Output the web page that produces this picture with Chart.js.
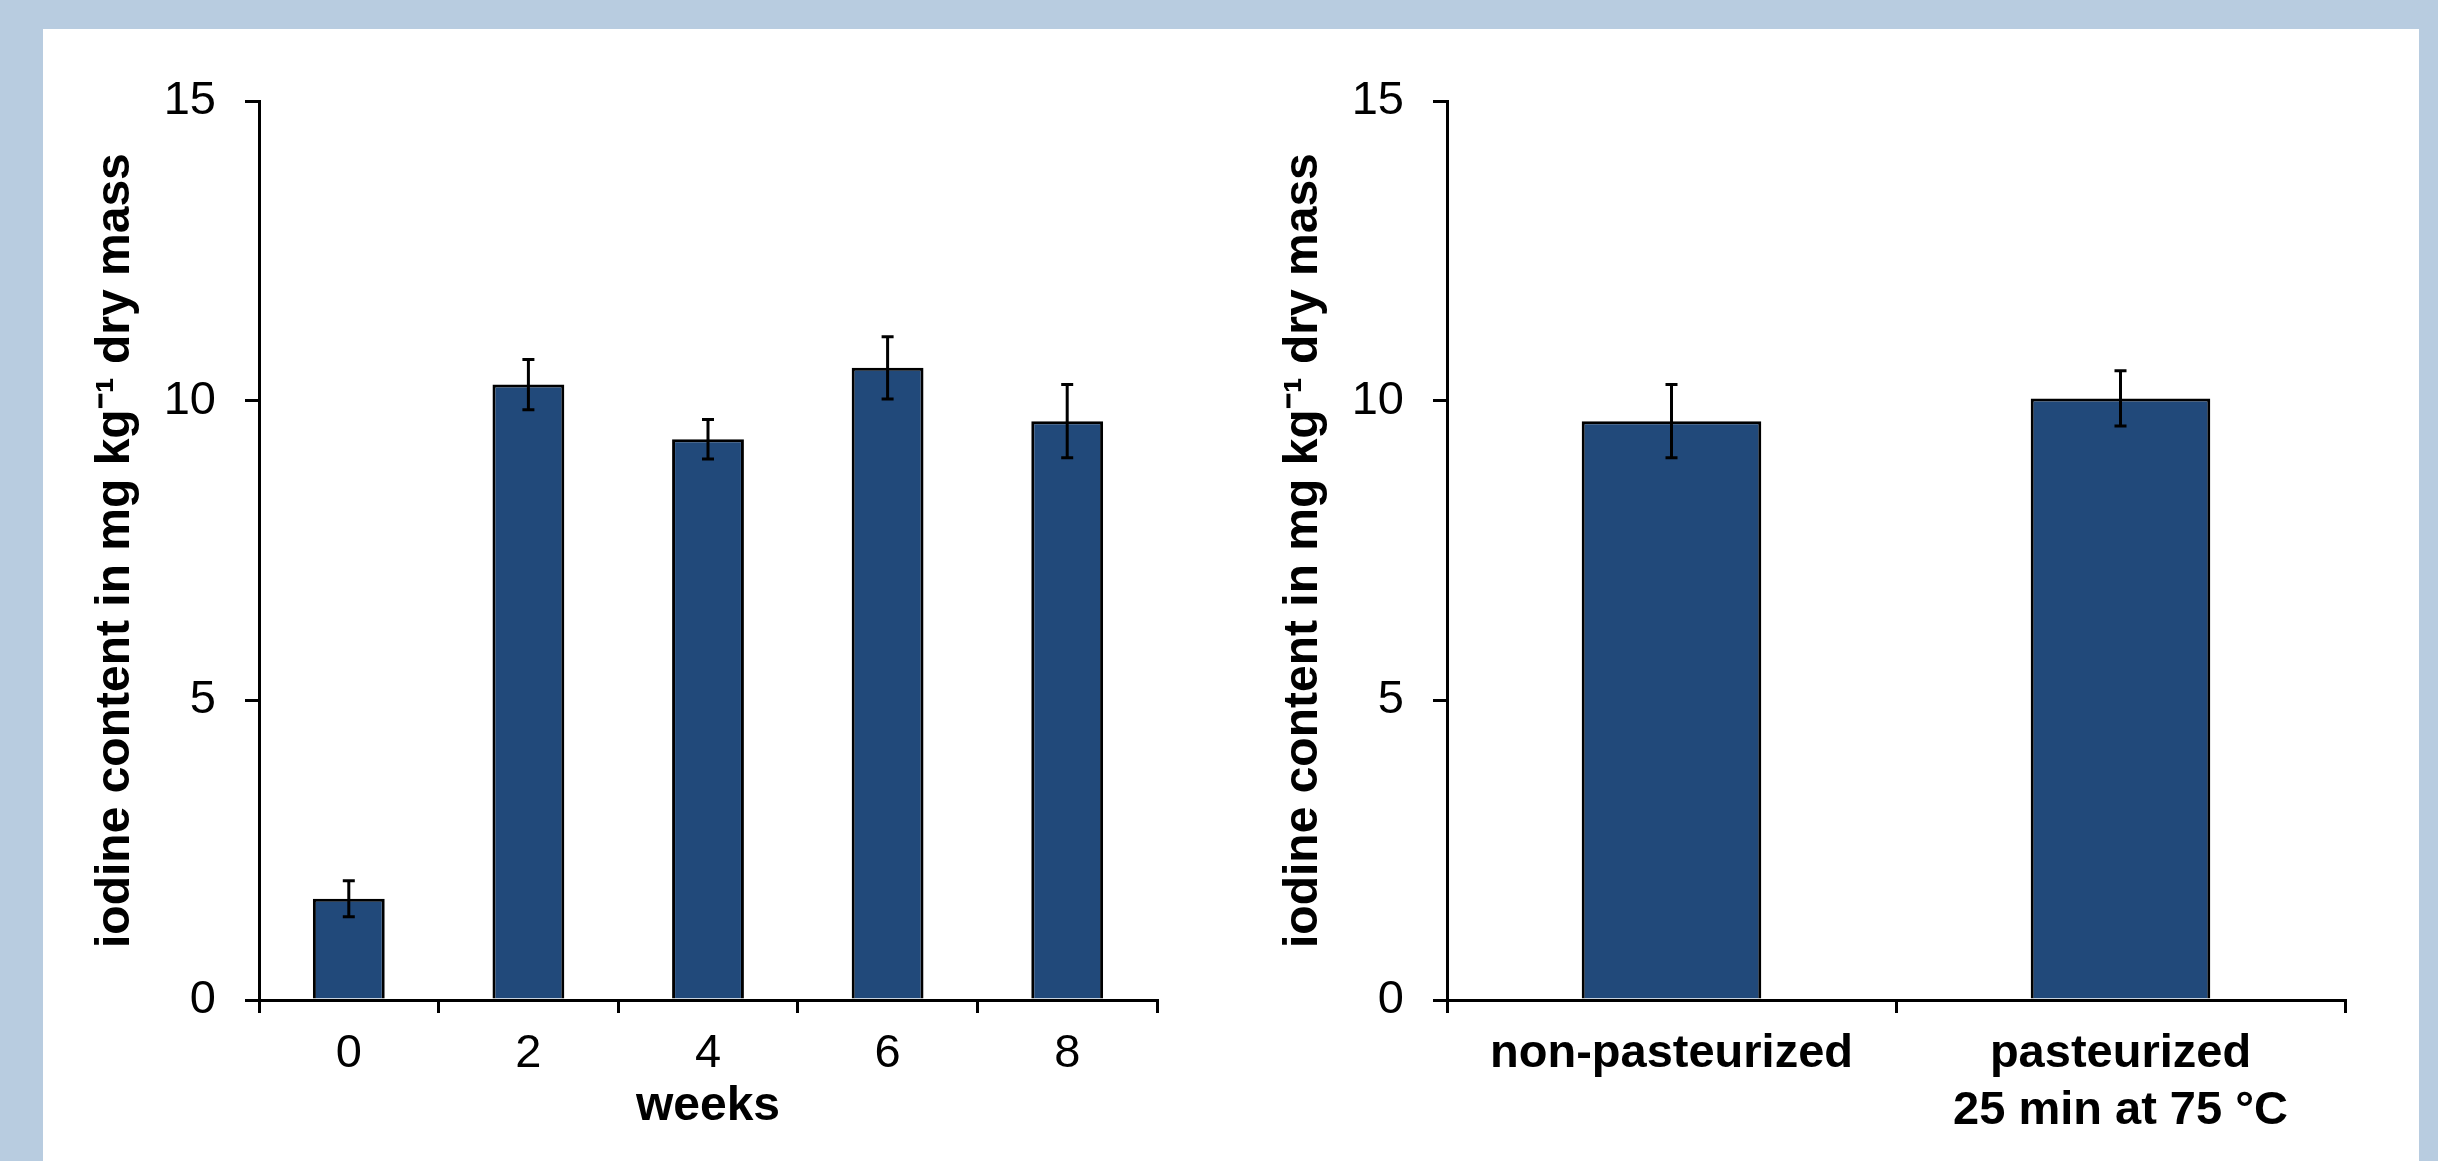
<!DOCTYPE html>
<html>
<head>
<meta charset="utf-8">
<script src="https://cdn.jsdelivr.net/npm/chart.js@4.4.1/dist/chart.umd.min.js"></script>
<style>
  body { margin: 0; background: #b8cce0; width: 2438px; height: 1161px; overflow: hidden; position: relative; }
  #panel { position: absolute; left: 43px; top: 29px; width: 2376px; height: 1132px; background: #fff; }
  canvas { position: absolute; }
</style>
</head>
<body>
<div id="panel"></div>
<canvas id="weeksChart" width="1117" height="1117" style="left:60px;top:44px"></canvas>
<canvas id="pastChart" width="1117" height="1117" style="left:1248px;top:44px"></canvas>
<script>
// ── data ──────────────────────────────────────────────
const WEEKS        = ['0', '2', '4', '6', '8'];
const WEEK_IODINE  = [1.69, 10.27, 9.36, 10.55, 9.66];
const WEEK_ERR     = [0.30, 0.42, 0.33, 0.52, 0.61];

const TREATMENTS   = [['non-pasteurized'], ['pasteurized', '25 min at 75 °C']];
const TREAT_IODINE = [9.66, 10.04];
const TREAT_ERR    = [0.61, 0.46];

const Y_TICKS      = [0, 5, 10, 15];
const Y_TITLE      = 'iodine content in mg kg⁻¹ dry mass';

const FONT   = '"Liberation Sans", Arial, sans-serif';
const BAR_BG = '#21497a';

// error bars drawn on top of each bar, through the y scale
const errorBars = {
  id: 'errorBars',
  afterDatasetsDraw(chart) {
    const { ctx, scales: { y } } = chart;
    const ds = chart.data.datasets[0];
    const meta = chart.getDatasetMeta(0);
    ctx.save();
    ctx.strokeStyle = '#000';
    ctx.lineWidth = 3;
    meta.data.forEach((bar, i) => {
      const v = ds.data[i], e = ds.errors[i];
      const yt = y.getPixelForValue(v + e), yb = y.getPixelForValue(v - e);
      ctx.beginPath();
      ctx.moveTo(bar.x, yt); ctx.lineTo(bar.x, yb);
      ctx.moveTo(bar.x - 6, yt); ctx.lineTo(bar.x + 6, yt);
      ctx.moveTo(bar.x - 6, yb); ctx.lineTo(bar.x + 6, yb);
      ctx.stroke();
    });
    ctx.restore();
  }
};

function makeChart(id, labels, values, errs, opt) {
  return new Chart(document.getElementById(id), {
    type: 'bar',
    data: {
      labels,
      datasets: [{
        data: values, errors: errs,
        backgroundColor: BAR_BG, borderColor: '#000', borderWidth: 3,
        categoryPercentage: 1, barPercentage: 0.4,
      }]
    },
    plugins: [errorBars],
    options: {
      responsive: false, animation: false,
      // top gap comes from the y tick label half-height + tick padding
      layout: { padding: { top: 0, right: 20, left: 0, bottom: 0 } },
      plugins: { legend: { display: false }, tooltip: { enabled: false } },
      scales: {
        x: {
          grid: { offset: true, drawOnChartArea: false, color: '#000', lineWidth: 3, tickLength: 13 },
          border: { color: '#000', width: 3 },
          ticks: { color: '#000', padding: 12, maxRotation: 0, autoSkip: false,
                   font: { family: FONT, size: 47, weight: opt.xBold ? 'bold' : 'normal', lineHeight: 1.22 } },
          title: { display: !!opt.xTitle, text: opt.xTitle || '', color: '#000',
                   font: { family: FONT, size: 48, weight: 'bold' }, padding: { top: 0, bottom: 25 } },
          afterFit: s => { s.height = 161; }
        },
        y: {
          min: 0, max: 15,
          afterBuildTicks: s => { s.ticks = Y_TICKS.map(v => ({ value: v })); },
          grid: { drawOnChartArea: false, color: '#000', lineWidth: 3, tickLength: 14 },
          border: { color: '#000', width: 3 },
          ticks: { color: '#000', padding: 29, font: { family: FONT, size: 47 } },
          title: { display: true, text: Y_TITLE, color: '#000',
                   font: { family: FONT, size: 48, weight: 'bold' }, padding: { top: 27, bottom: 0 } },
          afterFit: s => { s.width = 199; }
        }
      }
    }
  });
}

makeChart('weeksChart', WEEKS, WEEK_IODINE, WEEK_ERR, { xTitle: 'weeks', xBold: false });
makeChart('pastChart', TREATMENTS, TREAT_IODINE, TREAT_ERR, { xBold: true });
</script>
</body>
</html>
